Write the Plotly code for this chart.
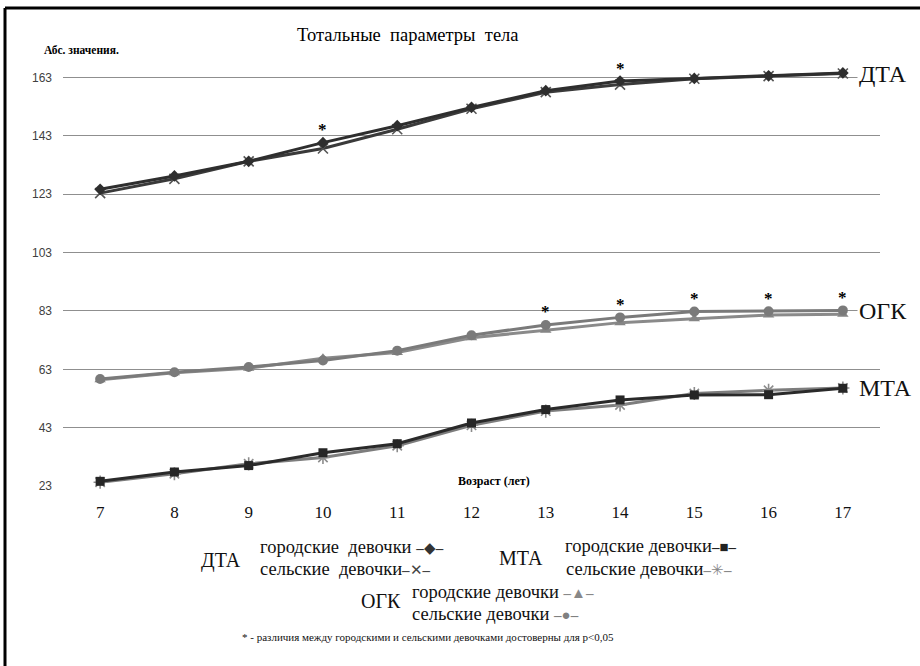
import plotly.graph_objects as go

# ---------------- data ----------------
ages = [7, 8, 9, 10, 11, 12, 13, 14, 15, 16, 17]
dta_urban = [124.7, 129.3, 134.3, 140.7, 146.5, 152.8, 158.5, 161.8, 162.7, 163.6, 164.6]
dta_rural = [123.4, 128.3, 134.3, 138.7, 145.3, 152.3, 158.0, 160.6, 162.6, 163.5, 164.4]
ogk_urban = [59.4, 61.8, 63.4, 66.8, 68.8, 73.8, 76.4, 79.0, 80.3, 81.6, 81.9]
ogk_rural = [59.7, 62.0, 63.8, 66.0, 69.4, 74.7, 78.2, 80.8, 82.8, 82.9, 83.2]
mta_urban = [24.6, 27.8, 30.0, 34.4, 37.5, 44.6, 49.2, 52.5, 54.2, 54.3, 56.5]
mta_rural = [24.3, 27.2, 30.6, 32.8, 36.8, 43.8, 48.7, 50.8, 54.7, 55.8, 56.6]
dta_sig = [10, 14]
ogk_sig = [13, 14, 15, 16, 17]
yticks = [23, 43, 63, 83, 103, 123, 143, 163]

title = "Тотальные  параметры  тела"
ytitle = "Абс. значения."
xtitle = "Возраст (лет)"
footnote = "* - различия между городскими и сельскими девочками достоверны для p<0,05"

W, H = 920, 666
ML, MR, MT, MB = 63, 40, 63, 180
PW = W - ML - MR
PH = H - MT - MB


def px2x(px):
    return (px - ML) / PW


def py2y(py):
    return (H - MB - py) / PH


SERIF = "Liberation Serif"
SANS = "Liberation Sans"

fig = go.Figure()


def add_series(y, color, lcolor, symbol, size, mline=0, mlcolor=None):
    fig.add_trace(go.Scatter(
        x=ages, y=y, mode="lines+markers",
        line=dict(color=lcolor, width=3),
        marker=dict(symbol=symbol, size=size, color=color,
                    line=dict(width=mline, color=mlcolor or color)),
        showlegend=False, hoverinfo="x+y", cliponaxis=False,
    ))


add_series(ogk_urban, "#858585", "#8a8a8a", "triangle-up", 10)
add_series(ogk_rural, "#7a7a7a", "#7a7a7a", "circle", 10)
add_series(mta_rural, "#8c8c8c", "#7d7d7d", "asterisk", 11, 1.6, "#8c8c8c")
add_series(mta_urban, "#262626", "#2a2a2a", "square", 9)
add_series(dta_rural, "#555555", "#3a3a3a", "x-thin", 10, 1.6, "#555555")
add_series(dta_urban, "#2e2e2e", "#2e2e2e", "diamond", 9)

annotations = []

# significance asterisks
for sig, u, r in [(dta_sig, dta_urban, dta_rural), (ogk_sig, ogk_urban, ogk_rural)]:
    for a in sig:
        i = ages.index(a)
        annotations.append(dict(x=a, y=max(u[i], r[i]), xref="x", yref="y",
                                text="<b>*</b>", showarrow=False, yshift=13,
                                font=dict(family=SERIF, size=17, color="#000")))

# series labels on the right
for txt, yv in [("ДТА", dta_urban[-1] - 0.4), ("ОГК", yticks[3]), ("МТА", mta_urban[-1])]:
    annotations.append(dict(x=px2x(857), y=yv, xref="paper", yref="y", text=txt,
                            showarrow=False, xanchor="left", yanchor="middle",
                            bgcolor="white", borderpad=1,
                            font=dict(family=SERIF, size=24, color="#111")))

# title and axis titles
annotations.append(dict(x=px2x(408), y=py2y(35), xref="paper", yref="paper", text=title,
                        showarrow=False, xanchor="center", yanchor="middle",
                        font=dict(family=SERIF, size=18.5, color="#000")))
annotations.append(dict(x=px2x(42), y=py2y(50), xref="paper", yref="paper",
                        text="<b>" + ytitle + "</b>",
                        showarrow=False, xanchor="left", yanchor="middle",
                        font=dict(family=SERIF, size=11.5, color="#000")))
annotations.append(dict(x=px2x(457), y=py2y(481), xref="paper", yref="paper",
                        text="<b>" + xtitle + "</b>", width=152, align="left",
                        showarrow=False, xanchor="left", yanchor="middle",
                        bgcolor="white", borderpad=0,
                        font=dict(family=SERIF, size=12, color="#000")))


def leg_text(px, py, txt, anchor="left", size=18.5):
    annotations.append(dict(x=px2x(px), y=py2y(py), xref="paper", yref="paper", text=txt,
                            showarrow=False, xanchor=anchor, yanchor="middle",
                            font=dict(family=SERIF, size=size, color="#111")))


def sym(s, c):
    return '<span style="color:%s;font-size:15px"><b>–</b>%s<b>–</b></span>' % (c, s)


leg_text(199, 560, "ДТА", size=20)
leg_text(258, 547, "городские  девочки " + sym("◆", "#333"))
leg_text(258, 569, "сельские  девочки" + sym("✕", "#444"))
leg_text(497, 558, "МТА", size=20)
leg_text(563, 546, "городские девочки" + sym("■", "#222"))
leg_text(564, 569, "сельские девочки" + sym("✳", "#888"))
leg_text(359, 601, "ОГК", size=20)
leg_text(410, 592, "городские девочки " + sym("▲", "#888"))
leg_text(410, 614, "сельские девочки " + sym("●", "#808080"))
leg_text(240, 637, footnote, size=11)

shapes = [
    dict(type="line", xref="paper", yref="paper", x0=px2x(5), x1=px2x(930), y0=py2y(8), y1=py2y(8),
         line=dict(color="#000", width=3)),
    dict(type="line", xref="paper", yref="paper", x0=px2x(5), x1=px2x(5), y0=py2y(8), y1=py2y(700),
         line=dict(color="#000", width=3)),
]

fig.update_layout(
    width=W, height=H,
    margin=dict(l=ML, r=MR, t=MT, b=MB, pad=0),
    paper_bgcolor="white", plot_bgcolor="white",
    annotations=annotations, shapes=shapes,
    xaxis=dict(range=[6.5, 17.5], tickvals=ages, ticktext=[str(a) for a in ages],
               showgrid=False, zeroline=False, showline=False, ticks="",
               ticklabelstandoff=14, automargin=False,
               tickfont=dict(family=SERIF, size=17, color="#111")),
    yaxis=dict(range=[23, 168], tickvals=yticks, showgrid=True, gridcolor="#8f8f8f", gridwidth=1,
               zeroline=False, showline=False, ticks="", ticklabelstandoff=10, automargin=False,
               tickfont=dict(family=SANS, size=12, color="#404040")),
    hovermode="closest",
)

fig.write_html("out.html")
